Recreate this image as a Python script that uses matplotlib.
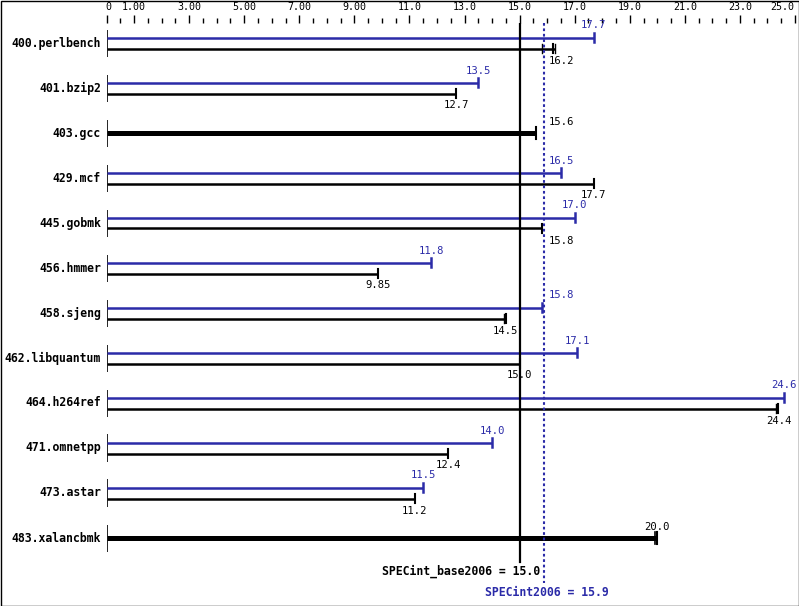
import matplotlib.pyplot as plt
import matplotlib.patches as mpatches
import matplotlib.transforms as mtransforms
import numpy as np

# benchmark names, top to bottom
benchmarks = ["400.perlbench", "401.bzip2", "403.gcc", "429.mcf", "445.gobmk",
              "456.hmmer", "458.sjeng", "462.libquantum", "464.h264ref",
              "471.omnetpp", "473.astar", "483.xalancbmk"]

# peak ratios (None = peak same as base, drawn as one thick bar)
peak = [17.7, 13.5, None, 16.5, 17.0, 11.8, 15.8, 17.1, 24.6, 14.0, 11.5, None]
peak_labels = ["17.7", "13.5", None, "16.5", "17.0", "11.8", "15.8", "17.1", "24.6", "14.0", "11.5", None]

# base ratios
base = [16.2, 12.7, 15.6, 17.7, 15.8, 9.85, 14.5, 15.0, 24.4, 12.4, 11.2, 20.0]
base_labels = ["16.2", "12.7", "15.6", "17.7", "15.8", "9.85", "14.5", "15.0", "24.4", "12.4", "11.2", "20.0"]

# extra run ticks on the base bars (other runs than the median)
base_extra = {0: [15.8, 16.3], 6: [14.45], 8: [24.3], 11: [19.93]}

# top axis
major = [0, 1, 3, 5, 7, 9, 11, 13, 15, 17, 19, 21, 23, 25]
major_labels = ["0", "1.00", "3.00", "5.00", "7.00", "9.00", "11.0", "13.0",
                "15.0", "17.0", "19.0", "21.0", "23.0", "25.0"]

spec_base = 15.0
spec_peak = 15.9

BLUE = "#2b2ba8"
MONO = "DejaVu Sans Mono"

W, H = 799, 606
fig = plt.figure(figsize=(W / 100, H / 100), dpi=100)
fig.patch.set_facecolor("white")

# axes in pixel terms
x0_px, x25_px = 106.5, 795.0
top_px, bot_px = 23.0, 604.0
ax = fig.add_axes([x0_px / W, 1 - bot_px / H, (x25_px - x0_px) / W, (bot_px - top_px) / H])
ax.set_xlim(0, 25)
row0_px, row_step = 43.0, 45.0
ax.set_ylim((bot_px - row0_px) / row_step, -(row0_px - top_px) / row_step)
for s in ax.spines.values():
    s.set_visible(False)
ax.patch.set_alpha(0)

# top ticks; labels drawn by hand so the end ones can be aligned inward
ax.set_xticks(major)
ax.set_xticklabels([])
ax.set_xticks(np.arange(0, 25.01, 0.5), minor=True)
ax.xaxis.set_ticks_position("top")
ax.tick_params(axis="x", which="major", direction="out", length=5.8, width=1)
ax.tick_params(axis="x", which="minor", direction="out", length=3.6, width=1)
ax.set_yticks([])

lab_tr = mtransforms.blended_transform_factory(ax.transData, fig.transFigure)
for k, (v, t) in enumerate(zip(major, major_labels)):
    ha = "center"
    xv = v
    if k == 0:
        xv = 0.05
    if k == len(major) - 1:
        ha = "right"
        xv = v - 0.02
    ax.text(xv, 1 - 7.5 / H, t, transform=lab_tr, ha=ha, va="center",
            family=MONO, fontsize=7.2, clip_on=False)

off = 5.5 / row_step
lab_off = 12.0 / row_step


def place_label(v, y, text, color, va):
    if abs(v - spec_peak) < 0.7:
        ax.text(16.05, y, text, ha="left", va=va, family=MONO, fontsize=7.6, color=color)
    else:
        ax.text(v, y, text, ha="center", va=va, family=MONO, fontsize=7.6, color=color)


for i, name in enumerate(benchmarks):
    # row label
    ax.text(-0.2, i, name, ha="right", va="center", family=MONO, fontsize=8.3,
            fontweight="bold")
    # left segment
    ax.plot([0, 0], [i - 0.3, i + 0.3], color="black", lw=1.2, solid_capstyle="butt")
    if peak[i] is None:
        v = base[i]
        ax.plot([0, v], [i, i], color="black", lw=3.6, solid_capstyle="butt")
        ax.plot([v, v], [i - 0.13, i + 0.13], color="black", lw=1.5)
        for e in base_extra.get(i, []):
            ax.plot([e, e], [i - 0.13, i + 0.13], color="black", lw=1.2)
        place_label(v, i - 0.25, base_labels[i], "black", "center")
    else:
        p = peak[i]
        yp = i - off
        ax.plot([0, p], [yp, yp], color=BLUE, lw=1.8, solid_capstyle="butt")
        ax.plot([p, p], [yp - 0.09, yp + 0.09], color=BLUE, lw=1.8)
        place_label(p, yp - lab_off, peak_labels[i], BLUE, "center")

        b = base[i]
        yb = i + off
        end = max([b] + base_extra.get(i, []))
        ax.plot([0, end], [yb, yb], color="black", lw=1.8, solid_capstyle="butt")
        ax.plot([b, b], [yb - 0.09, yb + 0.09], color="black", lw=1.5)
        for e in base_extra.get(i, []):
            ax.plot([e, e], [yb - 0.09, yb + 0.09], color="black", lw=1.0)
        place_label(b, yb + lab_off, base_labels[i], "black", "center")

# overall score lines
y_top = (top_px - row0_px) / row_step
ax.plot([spec_base, spec_base], [y_top, (562 - row0_px) / row_step], color="black", lw=1.6)
ax.plot([spec_peak, spec_peak], [y_top, (583 - row0_px) / row_step], color=BLUE, lw=1.5,
        linestyle=(0, (1.3, 1.3)))

ax.text(spec_base + 0.75, (571 - row0_px) / row_step, "SPECint_base2006 = %.1f" % spec_base,
        ha="right", va="center", family=MONO, fontsize=8.3, fontweight="bold", color="black")
ax.text(spec_peak + 2.35, (593 - row0_px) / row_step, "SPECint2006 = %.1f" % spec_peak,
        ha="right", va="center", family=MONO, fontsize=8.3, fontweight="bold", color=BLUE)

# frame around the whole picture
fig.add_artist(mpatches.Rectangle((0.5 / W, 0.5 / H), 1 - 1.0 / W, 1 - 1.0 / H,
                                  transform=fig.transFigure, fill=False,
                                  edgecolor="black", lw=1.0))

fig.savefig("out.png", dpi=100)
